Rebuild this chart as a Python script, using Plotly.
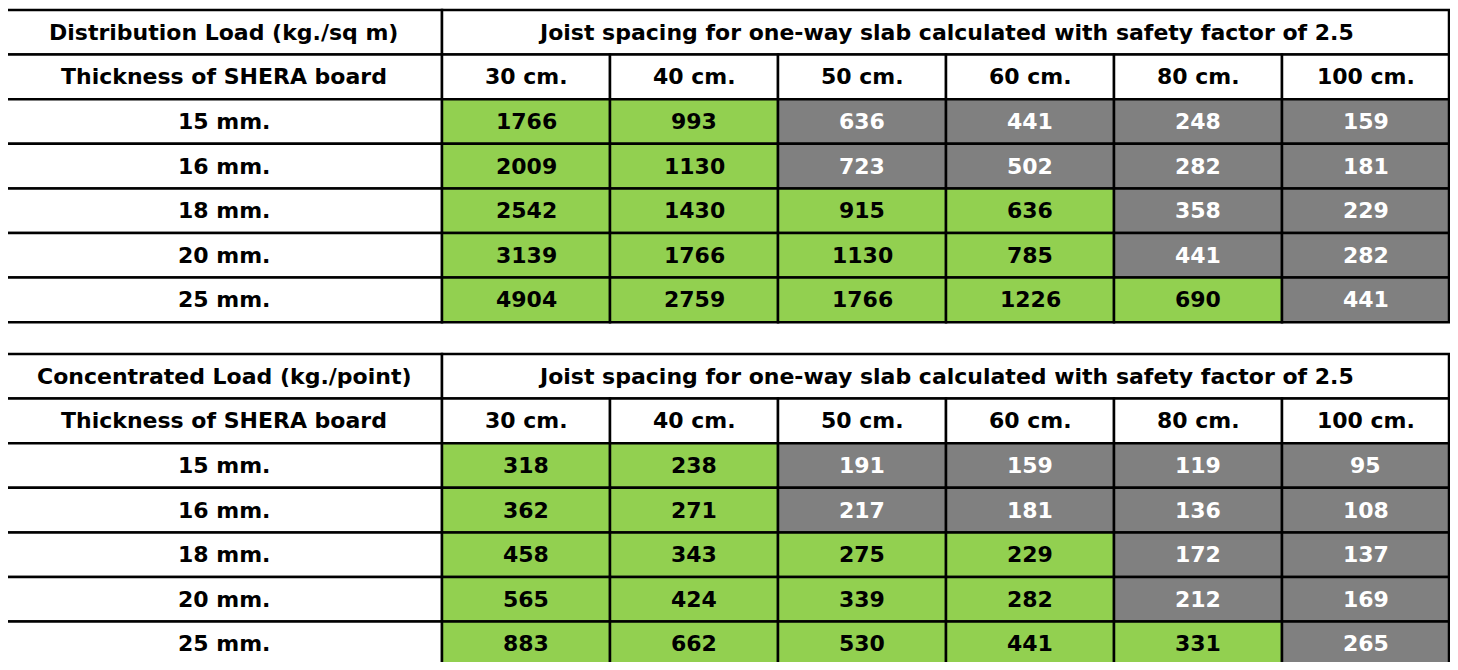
import plotly.graph_objects as go

titles = ["Distribution Load (kg./sq m)", "Concentrated Load (kg./point)"]
header_span = "Joist spacing for one-way slab calculated with safety factor of 2.5"
row_header = "Thickness of SHERA board"
spacings = ["30 cm.", "40 cm.", "50 cm.", "60 cm.", "80 cm.", "100 cm."]
thickness = ["15 mm.", "16 mm.", "18 mm.", "20 mm.", "25 mm."]
dist_values = [
    [1766, 993, 636, 441, 248, 159],
    [2009, 1130, 723, 502, 282, 181],
    [2542, 1430, 915, 636, 358, 229],
    [3139, 1766, 1130, 785, 441, 282],
    [4904, 2759, 1766, 1226, 690, 441],
]
conc_values = [
    [318, 238, 191, 159, 119, 95],
    [362, 271, 217, 181, 136, 108],
    [458, 343, 275, 229, 172, 137],
    [565, 424, 339, 282, 212, 169],
    [883, 662, 530, 441, 331, 265],
]
green_count = [2, 2, 4, 4, 5]

GREEN, GREY = "#92D050", "#808080"
col_edges = [5, 442, 610, 778, 946, 1114, 1282, 1449]
row_h = 44.6
tops = [10, 354]
FONT = "DejaVu Sans"
FS = 22
OFF = 8  # page body margin

fig = go.Figure()
shapes, ann = [], []

def rect(x0, x1, y0, y1, fill):
    shapes.append(dict(type="rect", xref="x", yref="y", x0=x0, x1=x1, y0=y0, y1=y1,
                       fillcolor=fill, line=dict(color="black", width=2.5), layer="above"))

def txt(x, y, s, color="black"):
    ann.append(dict(x=x, y=y, xref="x", yref="y", text="<b>%s</b>" % s, showarrow=False,
                    font=dict(family=FONT, size=FS, color=color)))

for t, (title, vals) in enumerate(zip(titles, [dist_values, conc_values])):
    top = tops[t]
    y = lambda r: top + r * row_h
    rect(col_edges[0], col_edges[1], y(0), y(1), "white")
    txt((col_edges[0] + col_edges[1]) / 2, y(0.5), title)
    rect(col_edges[1], col_edges[-1], y(0), y(1), "white")
    txt((col_edges[1] + col_edges[-1]) / 2, y(0.5), header_span)
    rect(col_edges[0], col_edges[1], y(1), y(2), "white")
    txt((col_edges[0] + col_edges[1]) / 2, y(1.5), row_header)
    for c, s in enumerate(spacings):
        rect(col_edges[c + 1], col_edges[c + 2], y(1), y(2), "white")
        txt((col_edges[c + 1] + col_edges[c + 2]) / 2, y(1.5), s)
    for r, th in enumerate(thickness):
        rr = r + 2
        rect(col_edges[0], col_edges[1], y(rr), y(rr + 1), "white")
        txt((col_edges[0] + col_edges[1]) / 2, y(rr + 0.5), th)
        for c, v in enumerate(vals[r]):
            g = c < green_count[r]
            rect(col_edges[c + 1], col_edges[c + 2], y(rr), y(rr + 1), GREEN if g else GREY)
            txt((col_edges[c + 1] + col_edges[c + 2]) / 2, y(rr + 0.5), str(v),
                "black" if g else "white")

fig.add_trace(go.Scatter(x=[OFF], y=[OFF], mode="markers", marker=dict(opacity=0), hoverinfo="skip"))
fig.update_layout(width=1458 - 2 * OFF, height=670 - 2 * OFF, margin=dict(l=0, r=0, t=0, b=0),
                  paper_bgcolor="white", plot_bgcolor="white", showlegend=False,
                  shapes=shapes, annotations=ann,
                  xaxis=dict(range=[OFF, 1458 - OFF], visible=False, fixedrange=True),
                  yaxis=dict(range=[670 - OFF, OFF], visible=False, fixedrange=True))
fig.write_html("out.html")
